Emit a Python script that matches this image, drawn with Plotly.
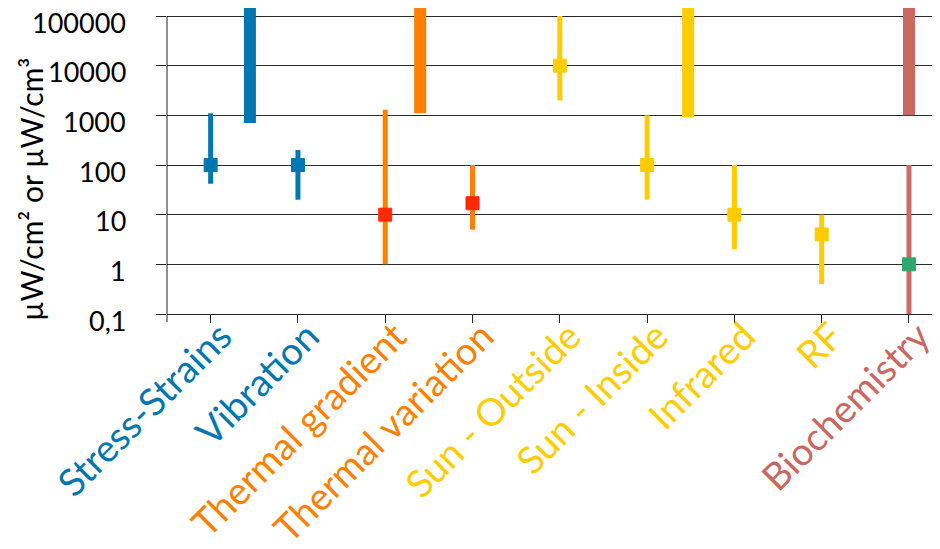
import math
import plotly.graph_objects as go

# ---------------- data ----------------
categories = ["Stress-Strains", "Vibration", "Thermal gradient", "Thermal variation",
              "Sun - Outside", "Sun - Inside", "Infrared", "RF", "Biochemistry"]
label_colors = ["#0077B0", "#0077B0", "#FF7F00", "#FF7F00",
                "#FFCC00", "#FFCC00", "#FFCC00", "#FFCC00", "#CC6660"]

# surface power density ranges (thin bars) and typical value (marker)
typical = [100, 100, 10, 17, 10000, 100, 10, 4, 1]
low = [42, 20, 1, 5, 2000, 20, 2, 0.4, 0.1]
high = [1100, 200, 1300, 100, 100000, 1000, 100, 10, 100]
bar_colors = ["#0077B0", "#0077B0", "#FF7F00", "#FF7F00",
              "#FFCC00", "#FFCC00", "#FFCC00", "#FFCC00", "#D06A66"]
marker_colors = ["#0077B0", "#0077B0", "#FF2A00", "#FF2A00",
                 "#FFCC00", "#FFCC00", "#FFCC00", "#FFCC00", "#2EA86C"]

# volumetric power density ranges (thick bars), position in category units
vol_x = [0.45, 2.4, 5.47, 8.0]
vol_low = [700, 1100, 900, 1000]
vol_high = [1000000, 1000000, 1000000, 1000000]
vol_colors = ["#0077B0", "#FF7F00", "#FFCC00", "#CC6660"]

y_tickvals = [0.1, 1, 10, 100, 1000, 10000, 100000]
y_ticktext = ["0,1", "1", "10", "100", "1000", "10000", "100000"]

FONT = "Lato"

fig = go.Figure()

# thick volumetric bars
for x, lo, hi, c in zip(vol_x, vol_low, vol_high, vol_colors):
    fig.add_trace(go.Scatter(
        x=[x], y=[lo], mode="markers",
        marker=dict(size=1, opacity=0, color=c),
        error_y=dict(type="data", symmetric=False, array=[hi - lo], arrayminus=[0],
                     color=c, thickness=12, width=0),
        showlegend=False, hoverinfo="skip"))

# thin surface bars with typical-value markers
for i, cat in enumerate(categories):
    fig.add_trace(go.Scatter(
        x=[i], y=[typical[i]], mode="markers",
        marker=dict(symbol="square", size=13, color=marker_colors[i],
                    line=dict(width=1, color=marker_colors[i])),
        error_y=dict(type="data", symmetric=False,
                     array=[high[i] - typical[i]], arrayminus=[typical[i] - low[i]],
                     color=bar_colors[i], thickness=5, width=0),
        showlegend=False, name=cat))

ticktext = [f'<span style="color:{c}">{t}</span>' for t, c in zip(categories, label_colors)]

PLOT_H = 306
PLOT_W = 781
ylo, yhi = -1, 5.161
fig.update_layout(
    width=940, height=549,
    margin=dict(l=159, r=0, t=0, b=549 - PLOT_H, autoexpand=False),
    paper_bgcolor="white", plot_bgcolor="white",
    font=dict(family=FONT, color="black"),
    xaxis=dict(range=[-0.5, 8.447], tickmode="array", tickvals=list(range(len(categories))),
               ticktext=ticktext, tickangle=-45, tickfont=dict(size=38, family=FONT),
               showgrid=False, zeroline=False, showline=True, linecolor="#222", linewidth=1,
               ticks="outside", ticklen=8, tickcolor="#222", automargin=False,
               ticklabelstandoff=-24, ticklabelshift=10, ticklabeloverflow="allow"),
    yaxis=dict(type="log", range=[ylo, yhi], tickmode="array", tickvals=y_tickvals,
               showticklabels=False,
               showgrid=True, gridcolor="#2a2a2a", gridwidth=1, zeroline=False,
               showline=False, ticks="outside", ticklen=10, tickcolor="#222",
               automargin=False),
)

# y tick labels, set slightly below their gridlines
for v, t in zip(y_tickvals, y_ticktext):
    fig.add_annotation(text=t, xref="paper", yref="y", x=(120 - 159) / PLOT_W,
                       y=math.log10(v), xanchor="right", yanchor="middle", yshift=-6,
                       showarrow=False, font=dict(size=27, family=FONT, color="black"))

# y axis line from 0.1 to 100000
fig.add_shape(type="line", xref="paper", yref="paper", x0=0, x1=0,
              y0=-8 / PLOT_H, y1=(5 - ylo) / (yhi - ylo),
              line=dict(color="#222", width=1))

fig.add_annotation(text="µW/cm² or µW/cm³", textangle=-90, xref="paper", yref="paper",
                   x=(23 - 159) / PLOT_W, y=(PLOT_H - 182) / PLOT_H, xanchor="center",
                   yanchor="middle", showarrow=False,
                   font=dict(size=30, family=FONT, color="black"))

fig.write_html("out.html")
